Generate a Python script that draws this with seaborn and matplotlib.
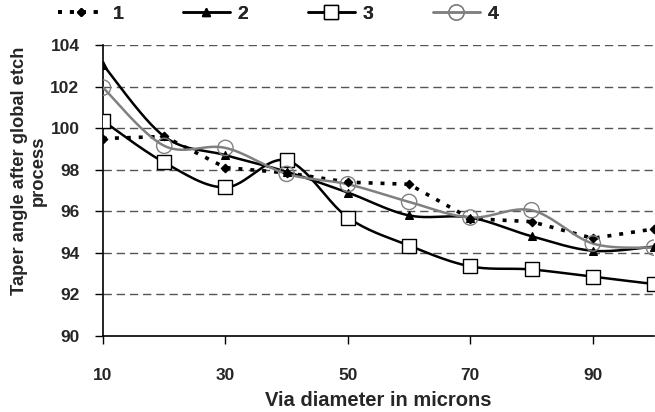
import numpy as np
import pandas as pd
import matplotlib
matplotlib.use("Agg")
import matplotlib.pyplot as plt
from matplotlib.lines import Line2D
import seaborn as sns

# ---- data ----
diameters = [10, 20, 30, 40, 50, 60, 70, 80, 90, 100]
series_1 = [99.5, 99.6, 98.1, 97.85, 97.4, 97.3, 95.65, 95.5, 94.7, 95.15]
series_2 = [103.05, 99.6, 98.7, 97.9, 96.9, 95.8, 95.7, 94.8, 94.1, 94.3]
series_3 = [100.35, 98.35, 97.15, 98.45, 95.7, 94.35, 93.35, 93.2, 92.85, 92.5]
series_4 = [101.95, 99.15, 99.05, 97.8, 97.3, 96.45, 95.7, 96.05, 94.45, 94.25]
labels = ["1", "2", "3", "4"]
x_ticks = [10, 30, 50, 70, 90]
y_ticks = [90, 92, 94, 96, 98, 100, 102, 104]


def smooth(xs, ys, n=30):
    """Excel-style smoothed line (Catmull-Rom Bezier) through the points."""
    p = np.column_stack([xs, ys]).astype(float)
    pts = np.vstack([p[0], p, p[-1]])
    out = []
    t = np.linspace(0, 1, n)[:, None]
    for i in range(1, len(pts) - 2):
        p0, p3 = pts[i], pts[i + 1]
        c1 = p0 + (pts[i + 1] - pts[i - 1]) / 6.0
        c2 = p3 - (pts[i + 2] - pts[i]) / 6.0
        seg = ((1 - t) ** 3) * p0 + 3 * ((1 - t) ** 2) * t * c1 + 3 * (1 - t) * t ** 2 * c2 + t ** 3 * p3
        out.append(seg if i == 1 else seg[1:])
    s = np.vstack(out)
    return s[:, 0], s[:, 1]


sns.set_theme(style="white")
plt.rcParams["font.family"] = ["Liberation Sans", "DejaVu Sans"]
plt.rcParams["font.weight"] = "bold"

fig = plt.figure(figsize=(6.55, 4.12), dpi=100)
ax = fig.add_axes([103 / 655, 76 / 412, 551 / 655, 291 / 412])

styles = [
    dict(color="black", lw=2.6, ls=(0, (1.1, 2.2)), marker="D", ms=4.2, mfc="black", mec="black", smooth=False),
    dict(color="black", lw=1.8, ls="-", marker="^", ms=5.5, mfc="black", mec="black", smooth=True),
    dict(color="black", lw=1.8, ls="-", marker="s", ms=10, mfc="white", mec="black", smooth=True),
    dict(color="#808080", lw=1.8, ls="-", marker="o", ms=11, mfc="none", mec="#808080", smooth=True),
]
all_series = [series_1, series_2, series_3, series_4]

handles = []
for lab, ys, st in zip(labels, all_series, styles):
    if st["smooth"]:
        cx, cy = smooth(diameters, ys)
    else:
        cx, cy = np.array(diameters, float), np.array(ys, float)
    dfc = pd.DataFrame({"x": cx, "y": cy})
    sns.lineplot(data=dfc, x="x", y="y", ax=ax, color=st["color"], lw=st["lw"],
                 linestyle=st["ls"], sort=False, estimator=None, legend=False, zorder=3)
    dfp = pd.DataFrame({"x": diameters, "y": ys})
    sns.scatterplot(data=dfp, x="x", y="y", ax=ax, marker=st["marker"], s=st["ms"] ** 2,
                    facecolor=st["mfc"], edgecolor=st["mec"], linewidth=1.0, legend=False, zorder=4)
    handles.append(Line2D([0], [0], color=st["color"], lw=st["lw"], linestyle=st["ls"],
                          marker=st["marker"], markersize=st["ms"], markerfacecolor=st["mfc"],
                          markeredgecolor=st["mec"], markeredgewidth=1.0))

ax.set_xlim(10, 100)
ax.set_ylim(90, 104)
ax.set_xticks(x_ticks)
ax.set_yticks(y_ticks)
ax.set_xticklabels([str(v) for v in x_ticks], fontsize=12.5, fontweight="bold")
ax.set_yticklabels([str(v) for v in y_ticks], fontsize=12.5, fontweight="bold")
ax.tick_params(axis="both", which="major", direction="out", length=6, width=1, color="black",
               bottom=True, left=True)
ax.tick_params(axis="y", pad=11)
ax.tick_params(axis="x", pad=17)

for v in y_ticks[1:]:
    ax.axhline(v, color="#555555", lw=1.0, ls=(0, (6, 3.5)), zorder=1)
ax.grid(False)

for side in ["top", "right"]:
    ax.spines[side].set_visible(False)
for side in ["left", "bottom"]:
    ax.spines[side].set_color("black")
    ax.spines[side].set_linewidth(1.2)
ax.patch.set_alpha(0)

ax.set_xlabel("Via diameter in microns", fontsize=14.5, fontweight="bold", labelpad=6)
ax.set_ylabel("Taper angle after global etch\nprocess", fontsize=13.2, fontweight="bold",
              linespacing=1.12, va="center", ha="center")
ax.yaxis.set_label_coords(-0.134, 0.567)

# one legend entry per slot, spaced as in the reference
slot_x = [58, 183, 308, 433]
for h, lab, xpx in zip(handles, labels, slot_x):
    leg = fig.legend([h], [lab], loc="center left", bbox_to_anchor=(xpx / 655, 1 - 14 / 412),
                     frameon=False, fontsize=14, handlelength=2.4, handletextpad=0.4,
                     borderpad=0, borderaxespad=0)
    for t in leg.get_texts():
        t.set_fontweight("bold")
    fig.add_artist(leg)

fig.savefig("out.png", dpi=100)
